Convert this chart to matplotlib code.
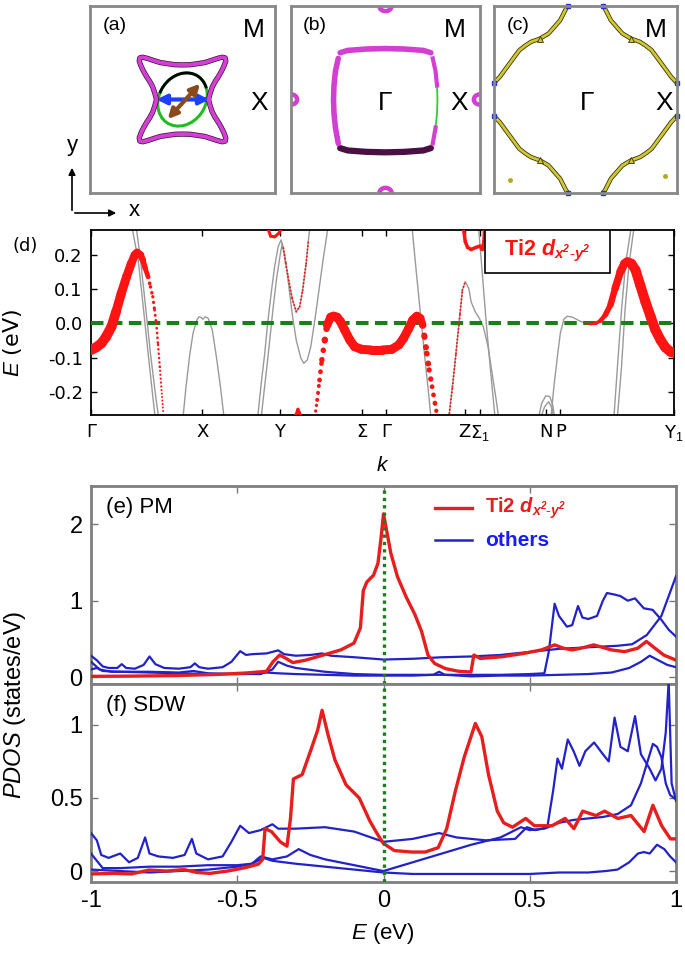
import numpy as np
import matplotlib
matplotlib.use("Agg")
import matplotlib.pyplot as plt
from matplotlib.collections import LineCollection
from matplotlib.patches import Ellipse, Arc, Rectangle, FancyArrowPatch

plt.rcParams['axes.unicode_minus'] = False
plt.rcParams['font.family'] = 'DejaVu Sans'
plt.rcParams['mathtext.fontset'] = 'custom'
plt.rcParams['mathtext.rm'] = 'Liberation Sans'
plt.rcParams['mathtext.it'] = 'Liberation Sans:italic'
plt.rcParams['mathtext.bf'] = 'Liberation Sans:bold:italic'

RED = '#ff1414'
GRAY = '#9a9a9a'
MAG = '#d23fd2'
BLUE = '#2222c8'
SANS = 'Liberation Sans'

# ---------------- Fermi surfaces (one quadrant, BZ units) ----------------
fs_a_x = [0.281, 0.300, 0.323, 0.355, 0.387, 0.420, 0.445, 0.468, 0.462, 0.430, 0.380, 0.323, 0.240, 0.154, 0.080, 0.0]
fs_a_y = [0.0, 0.070, 0.137, 0.195, 0.243, 0.300, 0.350, 0.410, 0.445, 0.452, 0.440, 0.421, 0.395, 0.382, 0.372, 0.370]
fs_b_top_x = [-0.48, -0.40, -0.20, 0.0, 0.20, 0.40, 0.48]
fs_b_top_y = [0.50, 0.525, 0.54, 0.545, 0.54, 0.525, 0.50]
fs_b_side_x = [0.50, 0.53, 0.545, 0.55, 0.545, 0.53, 0.50]
fs_b_side_y = [0.44, 0.30, 0.15, 0.0, -0.15, -0.30, -0.47]
fs_c_x = [0.19, 0.213, 0.277, 0.404, 0.500, 0.596, 0.660, 0.723, 0.830, 0.936, 0.987, 1.0]
fs_c_y = [1.0, 0.971, 0.847, 0.705, 0.650, 0.616, 0.575, 0.527, 0.385, 0.243, 0.190, 0.18]

# ---------------- band structure (k = fraction of path) ----------------
k_ticks = [0.0, 0.191, 0.324, 0.464, 0.506, 0.641, 0.668, 0.781, 0.805, 1.0]
k_labels = ['Γ', 'X', 'Y', 'Σ', 'Γ', 'Z', 'Σ$_1$', 'N', 'P', 'Y$_1$']

gray_bands = [
    ([0.071, 0.081, 0.089, 0.098, 0.106, 0.110], [0.275, 0.185, 0.058, -0.088, -0.214, -0.275]),
    ([0.078, 0.085, 0.093, 0.102, 0.111, 0.116], [0.275, 0.185, 0.058, -0.088, -0.214, -0.275]),
    ([0.158, 0.163, 0.169, 0.175, 0.181, 0.185, 0.189, 0.192, 0.196, 0.201, 0.208, 0.215, 0.222, 0.228],
     [-0.273, -0.185, -0.097, -0.029, 0.008, 0.019, 0.017, 0.012, 0.019, 0.015, -0.019, -0.097, -0.185, -0.273]),
    ([0.286, 0.292, 0.298, 0.303, 0.309, 0.315, 0.321, 0.326, 0.332, 0.338, 0.345, 0.352, 0.360, 0.365, 0.371,
      0.377, 0.384, 0.391, 0.398, 0.406],
     [-0.273, -0.175, -0.088, 0.0, 0.088, 0.166, 0.224, 0.244, 0.205, 0.127, 0.029, -0.049, -0.102, -0.117,
      -0.107, -0.068, 0.010, 0.097, 0.185, 0.275]),
    ([0.292, 0.303, 0.312, 0.318, 0.324, 0.328, 0.332, 0.338, 0.345, 0.352, 0.358, 0.363, 0.369, 0.373, 0.375],
     [-0.273, -0.107, 0.039, 0.127, 0.195, 0.234, 0.195, 0.136, 0.073, 0.034, 0.049, 0.097, 0.175, 0.244, 0.275]),
    ([0.551, 0.558, 0.565, 0.572, 0.580, 0.583], [0.275, 0.15, 0.03, -0.09, -0.22, -0.275]),
    ([0.614, 0.620, 0.626, 0.633, 0.637, 0.642, 0.648, 0.652, 0.659, 0.666, 0.673, 0.681, 0.688, 0.695, 0.699],
     [-0.273, -0.185, -0.088, 0.029, 0.097, 0.122, 0.102, 0.063, 0.034, 0.015, -0.010, -0.068, -0.146, -0.224, -0.273]),
    ([0.665, 0.671, 0.678, 0.686, 0.693], [0.275, 0.15, 0.0, -0.15, -0.275]),
    ([0.768, 0.773, 0.780, 0.787, 0.792, 0.795], [-0.273, -0.234, -0.212, -0.214, -0.239, -0.273]),
    ([0.772, 0.778, 0.785, 0.791, 0.793], [-0.273, -0.244, -0.229, -0.249, -0.273]),
    ([0.789, 0.794, 0.800, 0.805, 0.811, 0.817, 0.826, 0.837, 0.848, 0.857],
     [-0.273, -0.185, -0.097, -0.029, 0.012, 0.021, 0.018, 0.008, 0.0, -0.002]),
    ([0.897, 0.903, 0.910, 0.917, 0.926], [-0.273, -0.127, 0.039, 0.175, 0.275]),
    ([0.903, 0.910, 0.916, 0.923, 0.931], [-0.273, -0.127, 0.039, 0.175, 0.275]),
]

# fat bands: (k, E, weight in px, dotted)
red_a = ([0.0, 0.009, 0.018, 0.026, 0.035, 0.043, 0.052, 0.061, 0.069, 0.075, 0.079, 0.085, 0.089, 0.093, 0.098],
         [-0.078, -0.070, -0.058, -0.039, -0.010, 0.034, 0.088, 0.136, 0.175, 0.200, 0.207, 0.200, 0.185, 0.161, 0.136],
         [10, 10, 10, 10, 10, 9.5, 9, 9, 8.5, 8, 8, 7, 6, 5, 4.5], False)
red_a_tail = ([0.098, 0.102, 0.106, 0.109, 0.112, 0.115, 0.118, 0.121, 0.124],
              [0.136, 0.107, 0.078, 0.039, 0.0, -0.063, -0.127, -0.195, -0.263],
              [4, 3.5, 3.5, 3, 3, 2.5, 2.5, 2, 2], True)
red_b_rise = ([0.384, 0.388, 0.392, 0.396, 0.401, 0.405],
              [-0.273, -0.224, -0.166, -0.107, -0.049, -0.005],
              [3, 3.5, 4.5, 5, 6, 7], True)
red_b = ([0.405, 0.411, 0.416, 0.422, 0.428, 0.435, 0.444, 0.452, 0.464, 0.481, 0.499, 0.516, 0.528, 0.536, 0.545,
          0.552, 0.559, 0.565, 0.569],
         [-0.005, 0.018, 0.021, 0.018, 0.005, -0.019, -0.049, -0.068, -0.076, -0.078, -0.078, -0.076, -0.063, -0.044,
          -0.015, 0.010, 0.021, 0.015, -0.005],
         [8, 9, 9, 9, 9, 9, 9, 9, 9, 9, 9, 9, 9, 9, 9, 9, 9, 8, 7], False)
red_b_fall = ([0.569, 0.572, 0.576, 0.580, 0.585, 0.590, 0.594],
              [-0.005, -0.039, -0.088, -0.136, -0.185, -0.234, -0.273],
              [6, 6, 6, 5.5, 5, 4.5, 4], True)
red_c = ([0.614, 0.620, 0.626, 0.633, 0.637, 0.642], [-0.273, -0.185, -0.088, 0.029, 0.097, 0.122],
         [2, 2, 2, 2, 2, 2], True)
red_d = ([0.639, 0.642, 0.646, 0.652, 0.660, 0.667, 0.671, 0.674, 0.675],
         [0.275, 0.239, 0.222, 0.216, 0.222, 0.226, 0.216, 0.239, 0.275],
         [3.5] * 9, False)
red_e = ([0.848, 0.857, 0.866, 0.874, 0.882, 0.891, 0.899, 0.908, 0.915, 0.920, 0.927, 0.934, 0.942, 0.951, 0.960,
          0.968, 0.977, 0.985, 0.994, 1.0],
         [0.0, -0.002, 0.0, 0.008, 0.024, 0.054, 0.102, 0.151, 0.175, 0.180, 0.175, 0.156, 0.112, 0.063, 0.019,
          -0.019, -0.049, -0.070, -0.083, -0.086],
         [1.5, 2.5, 3, 4, 5, 6, 7, 8, 8.5, 9, 9.5, 10, 10, 10, 10, 10, 10, 10, 10, 10], False)
red_y_top = ([0.304, 0.308, 0.315, 0.322, 0.326], [0.275, 0.255, 0.253, 0.263, 0.275], [3] * 5, False)
red_y_bot = ([0.350, 0.355, 0.361], [-0.275, -0.251, -0.275], [3] * 3, False)
red_v = ([0.330, 0.334, 0.338, 0.345, 0.352, 0.358, 0.363, 0.369, 0.373],
         [0.22, 0.175, 0.136, 0.073, 0.034, 0.049, 0.097, 0.175, 0.244], [2] * 9, True)
red_bands = [red_a, red_a_tail, red_b_rise, red_b, red_b_fall, red_c, red_d, red_e, red_y_top, red_y_bot, red_v]

# ---------------- PDOS, PM ----------------
pm_E_red = [-1.0, -0.863, -0.713, -0.564, -0.475, -0.40, -0.378, -0.355, -0.333, -0.31, -0.266, -0.206, -0.146,
            -0.101, -0.079, -0.069, -0.057, -0.034, -0.019, -0.009, 0.0, 0.010, 0.025, 0.048, 0.078, 0.107, 0.130,
            0.152, 0.175, 0.212, 0.257, 0.299, 0.309, 0.331, 0.406, 0.481, 0.540, 0.585, 0.615, 0.645, 0.675,
            0.719, 0.779, 0.824, 0.869, 0.899, 0.928, 0.958, 1.0]
pm_red = [0.01, 0.013, 0.02, 0.036, 0.053, 0.075, 0.2, 0.289, 0.244, 0.19, 0.222, 0.289, 0.356, 0.444, 0.644, 1.133,
          1.244, 1.333, 1.489, 1.8, 2.133, 1.933, 1.622, 1.311, 1.044, 0.822, 0.6, 0.289, 0.178, 0.111, 0.076,
          0.067, 0.289, 0.244, 0.267, 0.311, 0.356, 0.422, 0.378, 0.356, 0.378, 0.422, 0.356, 0.333, 0.378, 0.467,
          0.378, 0.289, 0.222]
pm_E_b1 = [-1.0, -0.98, -0.96, -0.94, -0.91, -0.895, -0.88, -0.85, -0.82, -0.80, -0.78, -0.75, -0.70, -0.66, -0.645,
           -0.63, -0.60, -0.55, -0.52, -0.49, -0.47, -0.45, -0.40, -0.36, -0.34, -0.30, -0.25, -0.21, -0.18, -0.10,
           0.0, 0.1, 0.2, 0.3, 0.4, 0.5, 0.6, 0.7, 0.8, 0.85, 0.9, 0.95, 1.0]
pm_b1 = [0.28, 0.22, 0.14, 0.12, 0.12, 0.17, 0.12, 0.11, 0.16, 0.27, 0.17, 0.12, 0.11, 0.13, 0.18, 0.13, 0.11, 0.13,
         0.20, 0.34, 0.29, 0.30, 0.31, 0.35, 0.30, 0.28, 0.29, 0.31, 0.28, 0.26, 0.23, 0.24, 0.26, 0.27, 0.29, 0.33,
         0.37, 0.39, 0.41, 0.43, 0.55, 0.80, 1.32]
pm_E_b2 = [-1.0, -0.97, -0.93, -0.9, -0.8, -0.7, -0.65, -0.6, -0.5, -0.42, -0.38, -0.36, -0.33, -0.3, -0.2, -0.1,
           0.0, 0.1, 0.2, 0.3, 0.4, 0.5, 0.55, 0.565, 0.585, 0.60, 0.627, 0.645, 0.665, 0.68, 0.70, 0.73, 0.75, 0.764,
           0.79, 0.81, 0.835, 0.86, 0.89, 0.92, 0.95, 0.975, 1.0]
pm_b2 = [0.2, 0.10, 0.07, 0.07, 0.07, 0.06, 0.08, 0.05, 0.04, 0.04, 0.10, 0.20, 0.15, 0.12, 0.07, 0.04, 0.03, 0.03,
         0.03, 0.03, 0.03, 0.04, 0.05, 0.33, 0.96, 0.80, 0.66, 0.68, 0.93, 0.78, 0.76, 0.80, 1.00, 1.10, 1.08, 1.06,
         1.00, 1.03, 0.90, 0.88, 0.75, 0.62, 0.53]
pm_E_b3 = [-1.0, -0.98, -0.96, -0.9, -0.8, -0.7, -0.6, -0.5, -0.45, -0.4, -0.36, -0.3, -0.2, -0.1, 0.0, 0.1, 0.17,
           0.19, 0.21, 0.3, 0.4, 0.5, 0.6, 0.7, 0.78, 0.84, 0.88, 0.91, 0.94, 0.97, 1.0]
pm_b3 = [0.10, 0.12, 0.08, 0.07, 0.06, 0.05, 0.04, 0.04, 0.05, 0.06, 0.05, 0.04, 0.03, 0.02, 0.02, 0.02, 0.03, 0.07,
         0.03, 0.01, 0.02, 0.02, 0.03, 0.04, 0.06, 0.12, 0.20, 0.28, 0.22, 0.16, 0.13]

# ---------------- PDOS, SDW ----------------
sdw_E_red = [-1.0, -0.922, -0.862, -0.802, -0.742, -0.682, -0.637, -0.593, -0.533, -0.473, -0.428, -0.413, -0.405,
             -0.383, -0.353, -0.330, -0.318, -0.308, -0.278, -0.248, -0.225, -0.210, -0.188, -0.166, -0.128, -0.083,
             -0.046, -0.023, -0.001, 0.037, 0.097, 0.142, 0.187, 0.216, 0.246, 0.276, 0.314, 0.336, 0.359, 0.389,
             0.411, 0.441, 0.471, 0.486, 0.516, 0.576, 0.621, 0.651, 0.681, 0.726, 0.756, 0.801, 0.846, 0.891,
             0.921, 0.951, 0.981, 1.0]
sdw_red = [-0.02, -0.016, -0.02, 0.007, 0.0, 0.01, -0.01, -0.016, 0.0, 0.023, 0.047, 0.08, 0.29, 0.27, 0.20, 0.17,
           0.36, 0.63, 0.66, 0.83, 0.965, 1.10, 0.92, 0.76, 0.59, 0.50, 0.34, 0.26, 0.19, 0.14, 0.13, 0.13, 0.16,
           0.29, 0.55, 0.78, 1.01, 0.92, 0.66, 0.41, 0.33, 0.30, 0.34, 0.36, 0.31, 0.31, 0.36, 0.29, 0.41, 0.38,
           0.41, 0.36, 0.38, 0.27, 0.45, 0.31, 0.22, 0.22]
sdw_E_b1 = [-1.0, -0.98, -0.965, -0.94, -0.90, -0.87, -0.84, -0.815, -0.80, -0.77, -0.72, -0.68, -0.655, -0.64,
            -0.60, -0.55, -0.52, -0.49, -0.46, -0.42, -0.38, -0.36, -0.30, -0.20, -0.10, 0.0, 0.1, 0.19, 0.25, 0.35,
            0.45, 0.49, 0.52, 0.56, 0.58, 0.595, 0.61, 0.63, 0.65, 0.67, 0.69, 0.72, 0.75, 0.77, 0.79, 0.81, 0.835,
            0.86, 0.88, 0.91, 0.93, 0.95, 0.965, 0.975, 0.985, 1.0]
sdw_b1 = [0.26, 0.21, 0.11, 0.09, 0.12, 0.06, 0.09, 0.23, 0.12, 0.10, 0.09, 0.11, 0.22, 0.12, 0.08, 0.10, 0.20, 0.31,
          0.26, 0.28, 0.32, 0.29, 0.29, 0.30, 0.27, 0.20, 0.22, 0.26, 0.23, 0.21, 0.22, 0.30, 0.28, 0.30, 0.55, 0.77,
          0.70, 0.90, 0.82, 0.72, 0.82, 0.88, 0.80, 0.75, 1.05, 0.85, 0.82, 1.06, 0.80, 0.70, 0.62, 0.70, 0.95, 1.30,
          0.60, 0.48]
sdw_E_b2 = [-1.0, -0.96, -0.9, -0.8, -0.7, -0.6, -0.5, -0.45, -0.42, -0.38, -0.33, -0.29, -0.25, -0.2, -0.1, 0.0,
            0.1, 0.2, 0.3, 0.4, 0.47, 0.5, 0.55, 0.6, 0.65, 0.7, 0.75, 0.8, 0.846, 0.88, 0.921, 0.935, 0.95, 0.965,
            0.98, 1.0]
sdw_b2 = [0.12, 0.02, 0.02, 0.03, 0.03, 0.04, 0.04, 0.05, 0.10, 0.08, 0.10, 0.15, 0.11, 0.08, 0.04, 0.0, 0.06, 0.12,
          0.18, 0.23, 0.30, 0.28, 0.29, 0.33, 0.35, 0.36, 0.37, 0.39, 0.45, 0.60, 0.87, 0.85, 0.78, 0.60, 0.52, 0.49]
sdw_E_b3 = [-1.0, -0.9, -0.8, -0.7, -0.6, -0.5, -0.45, -0.41, -0.38, -0.3, -0.2, -0.1, 0.0, 0.1, 0.2, 0.3, 0.4, 0.5,
            0.6, 0.7, 0.76, 0.8, 0.84, 0.87, 0.89, 0.91, 0.935, 0.96, 0.98, 1.0]
sdw_b3 = [0.01, 0.0, -0.01, 0.0, 0.01, 0.03, 0.05, 0.09, 0.07, 0.05, 0.03, 0.01, -0.01, -0.02, -0.02, -0.02, -0.02,
          -0.02, -0.01, -0.01, 0.0, 0.01, 0.06, 0.12, 0.13, 0.12, 0.18, 0.15, 0.10, 0.06]


fig = plt.figure(figsize=(6.85, 9.57), dpi=100)


def ax_px(l, t, r, b):
    return fig.add_axes([l / 685, 1 - b / 957, (r - l) / 685, (b - t) / 957])


def fs_box(ax, labels):
    ax.set_xlim(-1, 1)
    ax.set_ylim(-1, 1)
    ax.set_xticks([])
    ax.set_yticks([])
    for s in ax.spines.values():
        s.set_color('#888888')
        s.set_linewidth(2)
    for x, y, t in labels:
        ax.text(x, y, t, transform=ax.transAxes, ha='center', va='center', fontsize=19 if len(t) == 1 else 14,
                family=SANS)


# (a)
axa = ax_px(90, 6, 275, 193)
fs_box(axa, [(0.133, 0.897, '(a)'), (0.883, 0.87, 'M'), (0.916, 0.48, 'X')])
qx, qy = np.array(fs_a_x), np.array(fs_a_y)
cx = np.concatenate([qx, -qx[::-1], -qx, qx[::-1]])
cy = np.concatenate([qy, qy[::-1], -qy, -qy[::-1]])
axa.plot(cx, cy, color='#3a103a', lw=3.8)
axa.plot(cx, cy, color=MAG, lw=2.8)
axa.add_patch(Ellipse((0, 0), 0.50, 0.60, angle=-35, fill=False, ec='#22bb22', lw=2.2))
axa.add_patch(Arc((0, 0), 0.50, 0.60, angle=-35, theta1=60, theta2=200, ec='black', lw=2.0))
axa.annotate('', xy=(0.29, 0), xytext=(-0.28, 0),
             arrowprops=dict(arrowstyle='<|-|>', color='#1f3fff', lw=3.0, mutation_scale=14, shrinkA=0, shrinkB=0))
axa.annotate('', xy=(0.19, 0.17), xytext=(-0.16, -0.21),
             arrowprops=dict(arrowstyle='<|-|>', color='#8b4a1c', lw=3.0, mutation_scale=14, shrinkA=0, shrinkB=0))

# (b)
axb = ax_px(291, 6, 480, 193)
fs_box(axb, [(0.126, 0.897, '(b)'), (0.869, 0.87, 'M'), (0.497, 0.48, 'Γ'), (0.89, 0.48, 'X')])
tx, ty = np.array(fs_b_top_x), np.array(fs_b_top_y)
sx, sy = np.array(fs_b_side_x), np.array(fs_b_side_y)
axb.plot(tx, ty, color=MAG, lw=4, solid_capstyle='round')
axb.plot(tx, -ty - 0.02, color='#4a1044', lw=4.5, solid_capstyle='round')
axb.plot(-sx, sy, color=MAG, lw=4, solid_capstyle='round')
axb.plot(sx, sy, color='#33cc33', lw=1.3)
axb.plot(sx[:3], sy[:3], color=MAG, lw=3)
axb.plot(sx[-2:], sy[-2:], color=MAG, lw=3)
for c in [(-1, 0), (1, 0), (0, 1), (0, -1)]:
    axb.add_patch(Ellipse(c, 0.13, 0.11, fill=False, ec=MAG, lw=3.2))

# (c)
axc = ax_px(494, 6, 677, 193)
fs_box(axc, [(0.13, 0.897, '(c)'), (0.884, 0.87, 'M'), (0.511, 0.48, 'Γ'), (0.928, 0.48, 'X')])
px_, py_ = np.array(fs_c_x), np.array(fs_c_y)
for sxn, syn in [(1, 1), (-1, 1), (-1, -1), (1, -1)]:
    axc.plot(sxn * px_, syn * py_, color='#3a3608', lw=3.2)
    axc.plot(sxn * px_, syn * py_, color='#cfc634', lw=2.0)
    axc.plot(sxn * px_[4], syn * py_[4], marker='^', ms=5, color='#cfc634', mec='#3a3608', mew=0.6)
    axc.plot([sxn * px_[0], sxn * px_[-1]], [syn * py_[0], syn * py_[-1]], ls='none', marker='s', ms=3,
             color='#2233dd', clip_on=False)
axc.plot([-0.83, 0.872], [-0.858, -0.822], ls='none', marker='o', ms=2.5, color='#b0a820')

# axis arrows
fig.add_artist(FancyArrowPatch((72 / 685, 1 - 213 / 957), (72 / 685, 1 - 165 / 957), transform=fig.transFigure,
                               arrowstyle='-|>', mutation_scale=10, color='black', lw=1.2))
fig.add_artist(FancyArrowPatch((72 / 685, 1 - 213 / 957), (119 / 685, 1 - 213 / 957), transform=fig.transFigure,
                               arrowstyle='-|>', mutation_scale=10, color='black', lw=1.2))
fig.text(72 / 685, 1 - 146 / 957, 'y', ha='center', va='center', fontsize=16, family=SANS)
fig.text(134 / 685, 1 - 211 / 957, 'x', ha='center', va='center', fontsize=16, family=SANS)

# ---------------- (d) band structure ----------------
axd = ax_px(91, 230, 674, 415)
axd.set_xlim(0, 1)
axd.set_ylim(-0.268, 0.273)
for k, e in gray_bands:
    axd.plot(k, e, color=GRAY, lw=1.0, zorder=2)
axd.axhline(0, color='#148214', lw=2.9, dashes=(3.1, 1.6), zorder=3)
for k, e, w, dotted in red_bands:
    pts = np.column_stack([k, e])
    segs = np.stack([pts[:-1], pts[1:]], axis=1)
    lws = (np.array(w[:-1]) + np.array(w[1:])) / 2 * 0.72
    lc = LineCollection(segs, linewidths=lws, colors=RED, capstyle='round', zorder=4)
    if dotted:
        lc.set_linestyle((0, (0.05, 1.7)))
    axd.add_collection(lc)
axd.set_xticks(k_ticks)
axd.set_xticklabels(k_labels, fontsize=13)
axd.set_yticks([-0.2, -0.1, 0.0, 0.1, 0.2])
axd.set_yticklabels(['-0.2', '-0.1', '0.0', '0.1', '0.2'], fontsize=13)
axd.tick_params(direction='in', top=True, right=True, length=4, width=1, pad=6)
for s in axd.spines.values():
    s.set_linewidth(1.3)
axd.add_patch(Rectangle((0.676, 0.768), 0.214, 0.232, transform=axd.transAxes, fc='white', ec='black', lw=1.2,
                        zorder=6))
axd.text(0.783, 0.885, r'Ti2 $\mathbf{d_{x^2\text{-}y^2}}$', transform=axd.transAxes, ha='center', va='center',
         color=RED, fontsize=15.5, fontweight='bold', family=SANS, zorder=7)
fig.text(25 / 685, 1 - 246 / 957, '(d)', ha='center', va='center', fontsize=13)
fig.text(13 / 685, 1 - 343 / 957, '$E$ (eV)', rotation=90, ha='center', va='center', fontsize=16)
fig.text(383 / 685, 1 - 465 / 957, '$k$', ha='center', va='center', fontsize=15)

# ---------------- (e), (f) PDOS ----------------
axe = ax_px(91, 486, 676, 684)
axf = ax_px(91, 684, 676, 882)
panels = [
    (axe, pm_E_red, pm_red, [(pm_E_b1, pm_b1), (pm_E_b2, pm_b2), (pm_E_b3, pm_b3)], (-0.09, 2.5), [0, 1, 2],
     ['0', '1', '2'], '(e) PM'),
    (axf, sdw_E_red, sdw_red, [(sdw_E_b1, sdw_b1), (sdw_E_b2, sdw_b2), (sdw_E_b3, sdw_b3)], (-0.075, 1.28),
     [0, 0.5, 1], ['0', '0.5', '1'], '(f) SDW'),
]
for ax, er, vr, blues, ylim, yt, ytl, tag in panels:
    ax.set_xlim(-1, 1)
    ax.set_ylim(*ylim)
    for eb, vb in blues:
        ax.plot(eb, vb, color=BLUE, lw=1.6, zorder=3)
    ax.plot(er, vr, color='#e61e1e', lw=2.4, zorder=4)
    ax.axvline(0, color='#1e7d1e', lw=2.4, ls=(0, (1, 1.2)), zorder=5)
    ax.set_yticks(yt)
    ax.set_yticklabels(ytl, fontsize=17, family=SANS)
    ax.set_xticks([-1, -0.5, 0, 0.5, 1])
    ax.tick_params(direction='in', top=True, right=True, length=5, width=1, color='#777777', pad=6)
    for s in ax.spines.values():
        s.set_color('#7f7f7f')
        s.set_linewidth(2)
    ax.text(0.026, 0.889, tag, transform=ax.transAxes, ha='left', va='center', fontsize=16, family=SANS)
axe.set_xticklabels([])
axf.set_xticklabels(['-1', '-0.5', '0', '0.5', '1'], fontsize=17, family=SANS)

axe.plot([0.588, 0.651], [0.889, 0.889], color='#e61e1e', lw=2.4, transform=axe.transAxes)
axe.plot([0.588, 0.651], [0.727, 0.727], color=BLUE, lw=1.8, transform=axe.transAxes)
axe.text(0.674, 0.889, r'Ti2 $\mathbf{d_{x^2\text{-}y^2}}$', transform=axe.transAxes, ha='left', va='center',
         color='#e61e1e', fontsize=14.5, fontweight='bold', family=SANS)
axe.text(0.674, 0.727, 'others', transform=axe.transAxes, ha='left', va='center', color='#1a1aff', fontsize=15,
         fontweight='bold', family=SANS)

fig.text(383 / 685, 1 - 933 / 957, '$E$ (eV)', ha='center', va='center', fontsize=16, family=SANS)
fig.text(15 / 685, 1 - 705 / 957, '$PDOS$ (states/eV)', rotation=90, ha='center', va='center', fontsize=17,
         family=SANS)

fig.savefig('out.png', dpi=100)
